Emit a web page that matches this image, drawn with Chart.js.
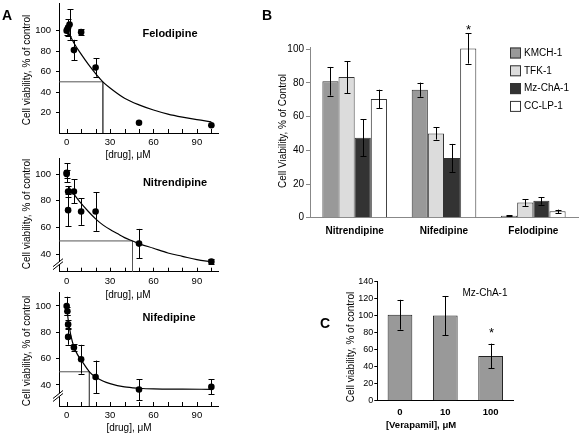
<!DOCTYPE html>
<html>
<head>
<meta charset="utf-8">
<script src="https://cdn.jsdelivr.net/npm/chart.js@4.4.1/dist/chart.umd.min.js"></script>
<style>
body { margin: 0; width: 583px; height: 436px; overflow: hidden; background: #fff; position: relative; }
canvas { position: absolute; left: -20px; top: -20px; }
</style>
</head>
<body>
<canvas id="a1" width="623" height="476"></canvas>
<canvas id="a2" width="623" height="476"></canvas>
<canvas id="a3" width="623" height="476"></canvas>
<canvas id="chartB" width="623" height="476"></canvas>
<canvas id="chartC" width="623" height="476"></canvas>
<script>
const FONT = "'Liberation Sans', Arial, sans-serif";
Chart.defaults.font.family = FONT;
Chart.defaults.color = '#000';

// Panel A: dose-response points (x = µM, y = % of control, err = ± bar)
const felX = [0, 1, 2, 5, 10, 20, 50, 100];
const felY = [100, 103, 106, 81, 98.5, 64, 10, 7.5];
const felErr = [4, 8, 15, 10, 3, 9, 0, 0];
const felFitX = [0, 5, 10, 15, 20, 25, 30, 40, 50, 60, 70, 80, 90, 100];
const felFitY = [102, 88, 77, 67, 58, 50, 44, 34, 27.5, 22.5, 18.5, 15.5, 13, 11];
const felIC50 = 25;

const nitX = [0, 0, 1, 1, 5, 10, 20, 50, 100];
const nitY = [101, 100, 87, 73, 87, 72, 72, 48, 34.5];
const nitErr = [7, 3, 4, 12, 9, 10, 14.5, 11, 2];
const nitFitX = [1, 5, 10, 15, 20, 25, 30, 35, 40, 45.5, 50, 60, 70, 80, 90, 100];
const nitFitY = [91, 85, 78, 72, 66.5, 62, 58.5, 55.5, 52.5, 50, 48, 44.5, 41, 38.5, 36, 34.5];
const nitIC50 = 45.5;

const nifX = [0, 0.5, 1, 1, 5, 10, 20, 50, 100];
const nifY = [100, 96, 86, 76.5, 68.5, 59.5, 46, 36.5, 38.5];
const nifErr = [7, 3, 3, 6, 2.5, 11, 12.5, 8, 5.7];
const nifFitX = [0, 1, 2, 3, 5, 7.5, 10, 15.7, 20, 25, 30, 40, 50, 60, 80, 100];
const nifFitY = [100, 90, 83, 77, 69, 63, 59, 50, 46, 43, 41, 38.5, 37.5, 37, 36.8, 36.7];
const nifIC50 = 15.7;

const doseTicks = [0, 10, 20, 30, 40, 50, 60, 70, 80, 90, 100];
const doseLabels = [0, 30, 60, 90];

// Panel B: viability per cell line
const drugs = ['Nitrendipine', 'Nifedipine', 'Felodipine'];
const kmch = [81, 76, 1.2];
const kmchErr = [8.5, 4.2, 0.3];
const tfk = [83.5, 50, 9];
const tfkErr = [9.5, 3.6, 2];
const mzcha = [47.5, 35.5, 10];
const mzchaErr = [11, 8.3, 2.3];
const cclp = [70.5, 100.5, 3.8];
const cclpErr = [5.5, 9, 1];
const cclpStar = [false, true, false];
const ticksB = [0, 20, 40, 60, 80, 100];

// Panel C: verapamil on Mz-ChA-1
const verapamil = ['0', '10', '100'];
const verVal = [101, 100, 52.5];
const verErr = [17.5, 23, 14.5];
const verStar = [false, false, true];
const ticksC = [0, 20, 40, 60, 80, 100, 120, 140];

const yTitleA = 'Cell viability, % of control';
const xTitleA = '[drug], μM';

// canvases are shifted 20px up/left so scale label overflow never moves the plot;
// axes get a fixed box (labels are clipped to it) and padding places the plot area
const OFF = 20;
const YW = 40;
const XH = 30;
function pad(l, t, r, b) {
    return { left: l + OFF - YW, top: t + OFF, right: 583 + OFF - r, bottom: 436 + OFF - b - XH };
}

function pts(xs, ys) {
    return xs.map((x, i) => ({ x: x, y: ys[i] }));
}

// draws ± error bars (and optional asterisks) for datasets that carry `errors`
const errorBars = {
    id: 'errorBars',
    afterDatasetsDraw(chart, args, opts) {
        const ctx = chart.ctx;
        const yScale = chart.scales.y;
        chart.data.datasets.forEach((ds, i) => {
            if (!ds.errors) return;
            const meta = chart.getDatasetMeta(i);
            ctx.save();
            ctx.strokeStyle = '#000';
            ctx.fillStyle = '#000';
            ctx.lineWidth = 1;
            meta.data.forEach((el, j) => {
                const e = ds.errors[j];
                const raw = ds.data[j];
                const v = typeof raw === 'object' ? raw.y : raw;
                const x = Math.round(el.x) + 0.5;
                const top = yScale.getPixelForValue(v + e);
                const bot = yScale.getPixelForValue(v - e);
                if (e) {
                    const w = opts.cap;
                    ctx.beginPath();
                    ctx.moveTo(x, top); ctx.lineTo(x, bot);
                    ctx.moveTo(x - w, Math.round(top) + 0.5); ctx.lineTo(x + w, Math.round(top) + 0.5);
                    ctx.moveTo(x - w, Math.round(bot) + 0.5); ctx.lineTo(x + w, Math.round(bot) + 0.5);
                    ctx.stroke();
                }
                if (ds.stars && ds.stars[j]) {
                    ctx.font = '13px ' + FONT;
                    ctx.textAlign = 'center';
                    ctx.textBaseline = 'alphabetic';
                    ctx.fillText('*', x, top - opts.starGap);
                }
            });
            ctx.restore();
        });
    }
};

// inward ticks every 10 µM and labels every 30 µM on the dose axis
const doseAxis = {
    id: 'doseAxis',
    afterDraw(chart) {
        const ctx = chart.ctx;
        const xScale = chart.scales.x;
        const y0 = chart.chartArea.bottom;
        ctx.save();
        ctx.strokeStyle = '#000';
        ctx.lineWidth = 1;
        ctx.beginPath();
        doseTicks.forEach(v => {
            const x = Math.round(xScale.getPixelForValue(v)) + 0.5;
            ctx.moveTo(x, y0);
            ctx.lineTo(x, y0 - 4);
        });
        ctx.stroke();
        ctx.fillStyle = '#000';
        ctx.font = '9.5px ' + FONT;
        ctx.textAlign = 'center';
        ctx.textBaseline = 'middle';
        doseLabels.forEach(v => {
            ctx.fillText(String(v), xScale.getPixelForValue(v), y0 + 9.5);
        });
        ctx.restore();
    }
};

// the "//" break on the y axis of the truncated plots
const axisBreak = {
    id: 'axisBreak',
    afterDraw(chart, args, opts) {
        if (opts.value == null) return;
        const ctx = chart.ctx;
        const x = chart.chartArea.left;
        const y = chart.scales.y.getPixelForValue(opts.value);
        ctx.save();
        ctx.fillStyle = '#fff';
        ctx.fillRect(x - 2, y - 2, 4, 3);
        ctx.strokeStyle = '#000';
        ctx.lineWidth = 1;
        ctx.beginPath();
        ctx.moveTo(x - 6, y + 3); ctx.lineTo(x + 4, y - 5);
        ctx.moveTo(x - 6, y + 6); ctx.lineTo(x + 4, y - 2);
        ctx.stroke();
        ctx.restore();
    }
};

// free text (titles, panel letters, notes) placed in page coordinates
const pageText = {
    id: 'pageText',
    afterDraw(chart, args, opts) {
        const ctx = chart.ctx;
        (opts.items || []).forEach(it => {
            ctx.save();
            ctx.translate(it.x + OFF, it.y + OFF);
            if (it.rot) ctx.rotate(it.rot * Math.PI / 180);
            ctx.font = (it.bold ? 'bold ' : '') + (it.size || 10) + 'px ' + FONT;
            ctx.fillStyle = '#000';
            ctx.textAlign = it.align || 'center';
            ctx.textBaseline = 'middle';
            ctx.fillText(it.text, 0, 0);
            ctx.restore();
        });
    }
};

// legend for panel B, drawn inside the plot like the original
const boxLegend = {
    id: 'boxLegend',
    afterDraw(chart, args, opts) {
        const ctx = chart.ctx;
        chart.data.datasets.forEach((ds, i) => {
            const y = opts.y + i * opts.gap + OFF;
            const x = opts.x + OFF;
            ctx.save();
            ctx.fillStyle = ds.backgroundColor;
            ctx.strokeStyle = '#333';
            ctx.lineWidth = 1;
            ctx.fillRect(x, y - 5.5, 11, 11);
            ctx.strokeRect(x + 0.5, y - 5, 10, 10);
            ctx.font = '10px ' + FONT;
            ctx.fillStyle = '#000';
            ctx.textAlign = 'left';
            ctx.textBaseline = 'middle';
            ctx.fillText(ds.label, x + 14, y);
            ctx.restore();
        });
    }
};

function doseChart(id, area, yMin, yMax, yTicks, xs, ys, errs, fitX, fitY, ic50, breakAt, texts) {
    const xMin = -5.3, xMax = 104.8;
    new Chart(document.getElementById(id), {
        type: 'scatter',
        data: {
            datasets: [
                {
                    data: pts(xs, ys),
                    errors: errs,
                    pointRadius: 3.3,
                    pointBackgroundColor: '#000',
                    pointBorderWidth: 0,
                    showLine: false
                },
                {
                    data: pts(fitX, fitY),
                    showLine: true,
                    pointRadius: 0,
                    borderColor: '#000',
                    borderWidth: 1.2,
                    cubicInterpolationMode: 'monotone'
                },
                {
                    data: [{ x: xMin, y: 50 }, { x: ic50, y: 50 }, { x: ic50, y: yMin }],
                    showLine: true,
                    pointRadius: 0,
                    borderColor: '#555',
                    borderWidth: 1,
                    tension: 0
                }
            ]
        },
        options: {
            responsive: false,
            animation: false,
            events: [],
            layout: { padding: area },
            plugins: {
                legend: { display: false },
                tooltip: { enabled: false },
                errorBars: { cap: 3, starGap: 4 },
                axisBreak: { value: breakAt },
                pageText: { items: texts }
            },
            scales: {
                x: {
                    type: 'linear',
                    min: xMin,
                    max: xMax,
                    afterBuildTicks: s => { s.ticks = doseLabels.map(v => ({ value: v })); },
                    afterFit: s => { s.height = XH; },
                    grid: { drawOnChartArea: false, drawTicks: false },
                    border: { color: '#000' },
                    ticks: { display: false }
                },
                y: {
                    min: yMin,
                    max: yMax,
                    afterBuildTicks: s => { s.ticks = yTicks.map(v => ({ value: v })); },
                    afterFit: s => { s.width = YW; },
                    grid: { drawOnChartArea: false, tickLength: 3, color: '#000' },
                    border: { color: '#000' },
                    ticks: { font: { size: 9.5 }, padding: 5 }
                }
            }
        },
        plugins: [errorBars, doseAxis, axisBreak, pageText]
    });
}

doseChart('a1', pad(59, 3, 218.3, 133), 0, 127, [20, 40, 60, 80, 100],
    felX, felY, felErr, felFitX, felFitY, felIC50, null, [
        { text: 'A', x: 7, y: 16, size: 14, bold: true },
        { text: yTitleA, x: 27, y: 70, rot: -90 },
        { text: xTitleA, x: 128, y: 155.5 },
        { text: 'Felodipine', x: 170, y: 34, size: 11, bold: true }
    ]);
doseChart('a2', pad(59, 158, 218.3, 271.7), 27, 112, [40, 60, 80, 100],
    nitX, nitY, nitErr, nitFitX, nitFitY, nitIC50, 33, [
        { text: yTitleA, x: 27, y: 214, rot: -90 },
        { text: xTitleA, x: 128, y: 295 },
        { text: 'Nitrendipine', x: 175, y: 183, size: 11, bold: true }
    ]);
doseChart('a3', pad(59, 292, 218.3, 406), 24, 110.6, [40, 60, 80, 100],
    nifX, nifY, nifErr, nifFitX, nifFitY, nifIC50, 32, [
        { text: yTitleA, x: 27, y: 351, rot: -90 },
        { text: xTitleA, x: 129, y: 428 },
        { text: 'Nifedipine', x: 169, y: 318, size: 11, bold: true }
    ]);

// Panel B
function barSet(label, data, errs, color, stars) {
    return {
        label: label,
        data: data,
        errors: errs,
        stars: stars,
        backgroundColor: color,
        borderColor: '#333',
        borderWidth: 1,
        categoryPercentage: 0.723,
        barPercentage: 1
    };
}

new Chart(document.getElementById('chartB'), {
    type: 'bar',
    data: {
        labels: drugs,
        datasets: [
            barSet('KMCH-1', kmch, kmchErr, '#999999'),
            barSet('TFK-1', tfk, tfkErr, '#dcdcdc'),
            barSet('Mz-ChA-1', mzcha, mzchaErr, '#333333'),
            barSet('CC-LP-1', cclp, cclpErr, '#ffffff', cclpStar)
        ]
    },
    options: {
        responsive: false,
        animation: false,
        events: [],
        layout: { padding: pad(310, 47.6, 578, 217.7) },
        plugins: {
            legend: { display: false },
            tooltip: { enabled: false },
            errorBars: { cap: 3, starGap: -1 },
            boxLegend: { x: 510, y: 53, gap: 17.8 },
            pageText: {
                items: [
                    { text: 'B', x: 267, y: 16, size: 14, bold: true },
                    { text: 'Cell Viability, % of Control', x: 283, y: 131, rot: -90 }
                ]
            }
        },
        scales: {
            x: {
                afterFit: s => { s.height = XH; },
                grid: { drawOnChartArea: false, drawTicks: false },
                border: { color: '#888' },
                ticks: { font: { size: 10, weight: 'bold' }, padding: 8 }
            },
            y: {
                min: 0,
                max: 101,
                afterBuildTicks: s => { s.ticks = ticksB.map(v => ({ value: v })); },
                afterFit: s => { s.width = YW; },
                grid: { drawOnChartArea: false, tickLength: 4, color: '#888' },
                border: { color: '#888' },
                ticks: { font: { size: 10 }, padding: 2 }
            }
        }
    },
    plugins: [errorBars, boxLegend, pageText]
});

// Panel C
new Chart(document.getElementById('chartC'), {
    type: 'bar',
    data: {
        labels: verapamil,
        datasets: [{
            label: 'Mz-ChA-1',
            data: verVal,
            errors: verErr,
            stars: verStar,
            backgroundColor: '#999999',
            borderColor: '#222',
            borderWidth: 1,
            categoryPercentage: 1,
            barPercentage: 0.545
        }]
    },
    options: {
        responsive: false,
        animation: false,
        events: [],
        layout: { padding: pad(377.3, 281.5, 513.3, 400.7) },
        plugins: {
            legend: { display: false },
            tooltip: { enabled: false },
            errorBars: { cap: 3, starGap: 7 },
            pageText: {
                items: [
                    { text: 'C', x: 325, y: 324, size: 14, bold: true },
                    { text: 'Cell viability, % of control', x: 351, y: 347, rot: -90 },
                    { text: 'Mz-ChA-1', x: 485, y: 293 },
                    { text: '[Verapamil], μM', x: 421, y: 425, size: 9.5, bold: true }
                ]
            }
        },
        scales: {
            x: {
                afterFit: s => { s.height = XH; },
                grid: { drawOnChartArea: false, drawTicks: false },
                border: { color: '#000' },
                ticks: { font: { size: 9.5, weight: 'bold' }, padding: 6 }
            },
            y: {
                min: 0,
                max: 140,
                afterBuildTicks: s => { s.ticks = ticksC.map(v => ({ value: v })); },
                afterFit: s => { s.width = YW; },
                grid: { drawOnChartArea: false, tickLength: 3, color: '#000' },
                border: { color: '#000' },
                ticks: { font: { size: 9 }, padding: 1 }
            }
        }
    },
    plugins: [errorBars, pageText]
});
</script>
</body>
</html>
